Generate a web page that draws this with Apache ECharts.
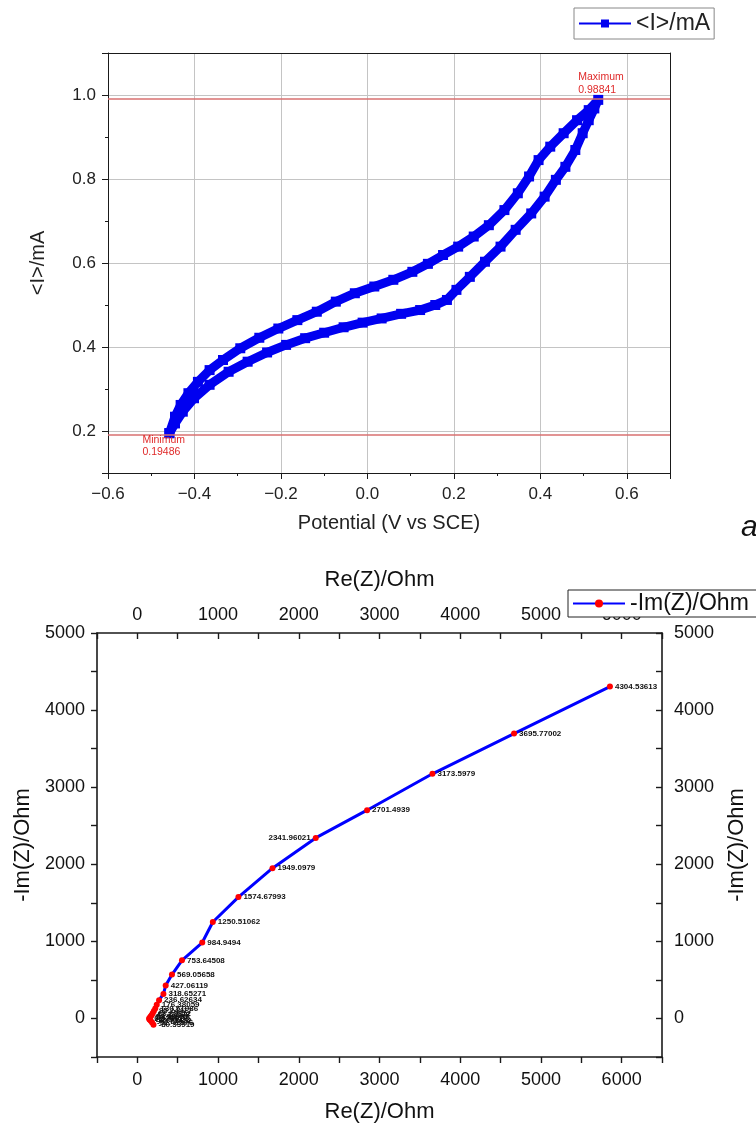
<!DOCTYPE html>
<html><head><meta charset="utf-8">
<script src="https://cdn.jsdelivr.net/npm/echarts@6/dist/echarts.min.js"></script>
<style>html,body{margin:0;padding:0;background:#fff}#c{width:756px;height:1135px}</style>
</head><body><div id="c"></div>
<script>
// ---------- Chart a: cyclic voltammogram ----------
const potentialV = [-0.458,-0.445,-0.432,-0.414,-0.392,-0.365,-0.334,-0.294,-0.250,-0.206,
  -0.162,-0.117,-0.073,-0.029,0.016,0.060,0.104,0.140,0.175,0.210,
  0.246,0.281,0.317,0.348,0.374,0.396,0.423,0.454,0.485,0.512,0.534,
  0.525,0.512,0.498,0.481,0.458,0.436,0.410,0.379,0.343,0.308,
  0.272,0.237,0.206,0.184,0.157,0.122,0.078,0.033,-0.011,-0.055,
  -0.100,-0.144,-0.188,-0.232,-0.277,-0.321,-0.365,-0.401,-0.427,-0.445,-0.458];
const currentMA = [0.19486,0.234,0.262,0.290,0.317,0.345,0.369,0.397,0.422,0.444,
  0.464,0.484,0.508,0.528,0.544,0.560,0.579,0.598,0.619,0.639,
  0.663,0.690,0.726,0.766,0.806,0.845,0.877,0.909,0.940,0.964,0.98841,
  0.968,0.940,0.909,0.869,0.829,0.798,0.758,0.718,0.679,0.639,
  0.603,0.567,0.536,0.512,0.500,0.488,0.479,0.468,0.458,0.447,
  0.434,0.421,0.405,0.387,0.365,0.341,0.310,0.278,0.246,0.218,0.19486];
const cvMaxLabel = ['Maximum', 0.98841];
const cvMinLabel = ['Minimum', 0.19486];
const cvXTicks = [-0.6,-0.4,-0.2,0.0,0.2,0.4,0.6];
const cvYTicks = [0.2,0.4,0.6,0.8,1.0];

// ---------- Chart b: Nyquist plot ----------
const reZ = [200,182,165,150,146,154,164,176,190,205,222,240,269,323,351,429,553,804,935,1252,1674,2210,2846,3656,4667,5855];
const imZ = [-80.33919,-52.41876,-30.71452,-12.50933,0.92861,10.21574,24.53097,43.12588,66.80312,95.24417,
  130.51986,176.38059,236.62634,318.65271,427.06119,569.05658,753.64508,984.9494,1250.51062,1574.67993,
  1949.0979,2341.96021,2701.4939,3173.5979,3695.77002,4304.53613];
const nyXTicks = [0,1000,2000,3000,4000,5000,6000];
const nyYTicks = [0,1000,2000,3000,4000,5000];

const FONT = 'Liberation Sans, Arial, sans-serif';
const near = (arr, v) => arr.some(t => Math.abs(t - v) < 1e-6 * Math.max(1, Math.abs(t)));
const dark = '#1a1a1a';

const cvData = potentialV.map((x, i) => [x, currentMA[i]]);
const iMax = currentMA.indexOf(cvMaxLabel[1]);
const iMin = currentMA.indexOf(cvMinLabel[1]);

const nyData = reZ.map((r, i) => ({
  value: [r, imZ[i]],
  label: imZ[i] === 2341.96021 ? { position: 'left' } : undefined
}));

const plainAxis = (extra) => Object.assign({
  type: 'value',
  axisLine: { show: true, onZero: false, lineStyle: { color: dark, width: 1 } },
  axisTick: { show: false },
  axisLabel: { show: false },
  splitLine: { show: false }
}, extra);

const chart = echarts.init(document.getElementById('c'), null, { renderer: 'canvas' });
chart.setOption({
  animation: false,
  backgroundColor: '#fff',
  textStyle: { fontFamily: FONT },
  grid: [
    { left: 108, top: 53, width: 562, height: 420 },
    { left: 97, top: 633, width: 568, height: 424 }
  ],
  legend: [
    { data: ['<I>/mA'], left: 574, top: 8, itemWidth: 52, itemHeight: 10, padding: [4, 4, 4, 4],
      borderColor: '#888', borderWidth: 1, backgroundColor: '#fff',
      textStyle: { fontSize: 23, color: '#222', fontFamily: FONT } },
    { data: ['-Im(Z)/Ohm'], left: 568, top: 590, itemWidth: 52, itemHeight: 10, padding: [2, 20, 2, 4],
      borderColor: '#222', borderWidth: 1, backgroundColor: '#fff',
      textStyle: { fontSize: 23, color: '#111', fontFamily: FONT } }
  ],
  xAxis: [
    { gridIndex: 0, type: 'value', position: 'bottom', min: -0.6, max: 0.7, interval: 0.2,
      axisLine: { show: true, onZero: false, lineStyle: { color: dark, width: 1 } },
      axisTick: { show: true, length: 6, lineStyle: { color: dark } },
      minorTick: { show: true, splitNumber: 2, length: 3, lineStyle: { color: dark } },
      axisLabel: { fontSize: 17, color: '#222', margin: 13, fontFamily: FONT,
        formatter: v => near(cvXTicks, v) ? v.toFixed(1).replace('-', '\u2212') : '' },
      splitLine: { show: true, lineStyle: { color: '#c4c4c4', width: 1 } },
      name: 'Potential (V vs SCE)', nameLocation: 'middle', nameGap: 40,
      nameTextStyle: { fontSize: 20, color: '#222', fontFamily: FONT } },
    plainAxis({ gridIndex: 0, position: 'top', min: -0.6, max: 0.7 }),
    { gridIndex: 1, type: 'value', position: 'bottom', min: -500, max: 6500, interval: 500,
      axisLine: { show: true, onZero: false, lineStyle: { color: dark, width: 1.6 } },
      axisTick: { show: true, length: 6, lineStyle: { color: dark, width: 1.4 } },
      axisLabel: { fontSize: 18, color: '#111', margin: 14, fontFamily: FONT,
        formatter: v => near(nyXTicks, v) ? String(v) : '' },
      splitLine: { show: false },
      name: 'Re(Z)/Ohm', nameLocation: 'middle', nameGap: 44,
      nameTextStyle: { fontSize: 22, color: '#111', fontFamily: FONT } },
    { gridIndex: 1, type: 'value', position: 'top', min: -500, max: 6500, interval: 500,
      axisLine: { show: true, onZero: false, lineStyle: { color: dark, width: 1.6 } },
      axisTick: { show: true, inside: true, length: 6, lineStyle: { color: dark, width: 1.4 } },
      axisLabel: { fontSize: 18, color: '#111', margin: 9, fontFamily: FONT,
        formatter: v => near(nyXTicks, v) ? String(v) : '' },
      splitLine: { show: false },
      name: 'Re(Z)/Ohm', nameLocation: 'middle', nameGap: 42,
      nameTextStyle: { fontSize: 22, color: '#111', fontFamily: FONT } }
  ],
  yAxis: [
    { gridIndex: 0, type: 'value', position: 'left', min: 0.1, max: 1.1, splitNumber: 5,
      axisLine: { show: true, onZero: false, lineStyle: { color: dark, width: 1 } },
      axisTick: { show: true, length: 6, lineStyle: { color: dark } },
      minorTick: { show: true, splitNumber: 2, length: 3, lineStyle: { color: dark } },
      axisLabel: { fontSize: 17, color: '#222', margin: 12, fontFamily: FONT,
        formatter: v => near(cvYTicks, v) ? v.toFixed(1) : '' },
      splitLine: { show: true, lineStyle: { color: '#c4c4c4', width: 1 } },
      name: '<I>/mA', nameLocation: 'middle', nameGap: 60,
      nameTextStyle: { fontSize: 20, color: '#222', fontFamily: FONT } },
    plainAxis({ gridIndex: 0, position: 'right', min: 0.1, max: 1.1 }),
    { gridIndex: 1, type: 'value', position: 'left', min: -500, max: 5000, interval: 500,
      axisLine: { show: true, onZero: false, lineStyle: { color: dark, width: 1.6 } },
      axisTick: { show: true, length: 6, lineStyle: { color: dark, width: 1.4 } },
      axisLabel: { fontSize: 18, color: '#111', margin: 12, fontFamily: FONT,
        formatter: v => near(nyYTicks, v) ? String(v) : '' },
      splitLine: { show: false },
      name: '-Im(Z)/Ohm', nameLocation: 'middle', nameGap: 62,
      nameTextStyle: { fontSize: 22, color: '#111', fontFamily: FONT } },
    { gridIndex: 1, type: 'value', position: 'right', min: -500, max: 5000, interval: 500,
      axisLine: { show: true, onZero: false, lineStyle: { color: dark, width: 1.6 } },
      axisTick: { show: true, inside: true, length: 6, lineStyle: { color: dark, width: 1.4 } },
      axisLabel: { fontSize: 18, color: '#111', margin: 12, fontFamily: FONT,
        formatter: v => near(nyYTicks, v) ? String(v) : '' },
      splitLine: { show: false },
      name: '-Im(Z)/Ohm', nameLocation: 'middle', nameGap: 64,
      nameTextStyle: { fontSize: 22, color: '#111', fontFamily: FONT } }
  ],
  series: [
    { name: '<I>/mA', type: 'line', xAxisIndex: 0, yAxisIndex: 0, data: cvData,
      symbol: 'rect', symbolSize: 10, showAllSymbol: true,
      lineStyle: { color: '#0000f0', width: 9 }, itemStyle: { color: '#0000f0' },
      markLine: { silent: true, symbol: 'none', label: { show: false },
        lineStyle: { color: '#d87070', width: 1.5, type: 'solid' },
        data: [{ yAxis: cvMaxLabel[1] }, { yAxis: cvMinLabel[1] }] },
      markPoint: { silent: true, symbol: 'circle', symbolSize: 0,
        data: [
          { coord: cvData[iMax], label: { show: true, position: [0, 0], align: 'left', verticalAlign: 'bottom',
              offset: [-20, -3], formatter: cvMaxLabel[0] + '\n' + cvMaxLabel[1],
              fontSize: 10.5, lineHeight: 13, color: '#e02a2a', fontFamily: FONT } },
          { coord: cvData[iMin], label: { show: true, position: [0, 0], align: 'left', verticalAlign: 'top',
              offset: [-27, 1], formatter: cvMinLabel[0] + '\n' + cvMinLabel[1],
              fontSize: 10.5, lineHeight: 12, color: '#e02a2a', fontFamily: FONT } }
        ] } },
    { name: '-Im(Z)/Ohm', type: 'line', xAxisIndex: 2, yAxisIndex: 2, data: nyData,
      symbol: 'circle', symbolSize: 6, showAllSymbol: true,
      lineStyle: { color: '#0000ff', width: 3 }, itemStyle: { color: '#ff0000' },
      z: 3,
      label: { show: true, position: 'right', distance: 2, fontSize: 8, fontWeight: 'bold', color: '#111',
        fontFamily: FONT, formatter: p => String(imZ[p.dataIndex]) } }
  ],
  graphic: [
    { type: 'text', x: 741, y: 528, style: { text: 'a', font: 'italic 30px ' + FONT, fill: '#111',
      verticalAlign: 'middle', align: 'left' } }
  ]
});
</script></body></html>
